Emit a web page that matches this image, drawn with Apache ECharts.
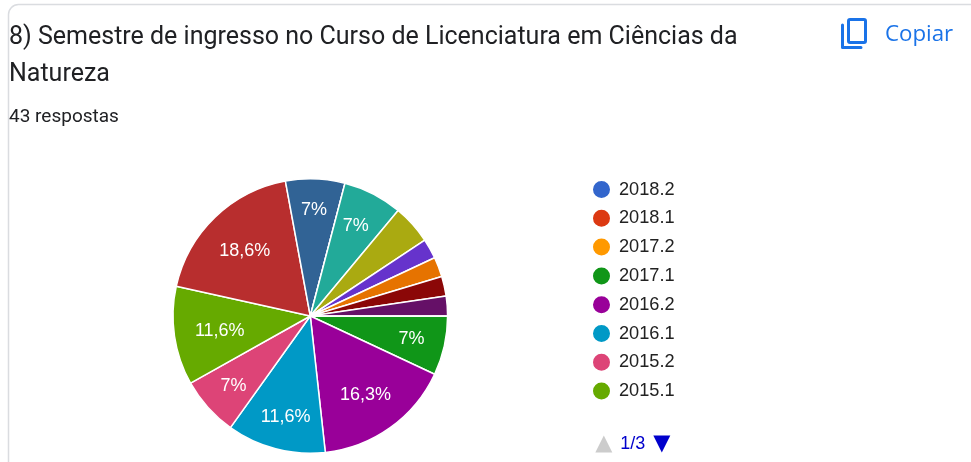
<!DOCTYPE html>
<html><head><meta charset="utf-8">
<style>html,body{margin:0;padding:0;background:#fff}#c{width:971px;height:462px}</style>
<script src="https://cdn.jsdelivr.net/npm/echarts@6/dist/echarts.min.js"></script>
</head><body><div id="c"></div>
<script>
const titleLines = ['8) Semestre de ingresso no Curso de Licenciatura em Ciências da', 'Natureza'];
const subtitle = '43 respostas';
const copyLabel = 'Copiar';
const categories = ['2018.2','2018.1','2017.2','2017.1','2016.2','2016.1','2015.2','2015.1','2014.2','2014.1','2013.2','2013.1','2012.2','2012.1','2011.2','2011.1','2010.2','2010.1'];
const counts = [0,0,0,3,7,5,3,5,8,3,0,3,2,1,1,1,1,0];
const colors = ['#3366cc','#dc3912','#ff9900','#109618','#990099','#0099c6','#dd4477','#66aa00','#b82e2e','#316395','#994499','#22aa99','#aaaa11','#6633cc','#e67300','#8b0707','#651067','#329262'];
const total = counts.reduce((a,b)=>a+b,0);
const pieData = categories.map((name,i)=>({name,value:counts[i]}));
const labelNudge = {3:[2,1],4:[-4,-4],5:[1,3],6:[-1,2],7:[10,0],8:[5,8],9:[0,-4],11:[-1,0]};
const chart = echarts.init(document.getElementById('c'),null,{renderer:'canvas'});
const sansLabel = '"Liberation Sans", Arial, sans-serif';
chart.setOption({
  animation:false,
  backgroundColor:'#fff',
  color:colors,
  legend:{
    type:'scroll',orient:'vertical',left:591,top:179,height:274,padding:0,
    data:categories,icon:'circle',itemWidth:19,itemHeight:19,itemGap:7.8,
    textStyle:{fontFamily:sansLabel,fontSize:18.2,color:'#222',lineHeight:19,padding:[0,0,0,3]},
    pageFormatter:'{current}/{total}',
    pageIcons:{vertical:['path://M6 0L12 12L0 12Z','path://M0 0L12 0L6 12Z']},
    pageIconColor:'#0000cc',pageIconInactiveColor:'#cccccc',pageIconSize:[18,17],
    pageButtonGap:33,pageButtonItemGap:0,
    pageTextStyle:{color:'#0000cc',fontFamily:sansLabel,fontSize:18}
  },
  series:[
    {type:'pie',center:[310.3,316],radius:[0,137.3],startAngle:0,clockwise:true,minAngle:0,
     stillShowZeroSum:false,avoidLabelOverlap:false,
     data:pieData,label:{show:false},labelLine:{show:false},
     itemStyle:{borderColor:'#fff',borderWidth:1.5},emphasis:{disabled:true}},
    {type:'pie',center:[310.3,316],radius:[60,137.3],startAngle:0,clockwise:true,silent:true,
     avoidLabelOverlap:false,legendHoverLink:false,
     data:pieData,labelLine:{show:false},
     itemStyle:{color:'transparent',borderWidth:0},emphasis:{disabled:true},
     labelLayout:p=>{const n=labelNudge[p.dataIndex]; return n?{dx:n[0],dy:n[1]}:{};},
     label:{show:true,position:'inside',color:'#fff',fontFamily:sansLabel,fontSize:18,
       formatter:p=>{ if(p.value<3) return ''; const v=p.value/total*100; const s=v.toFixed(1).replace('.',','); return (s.endsWith(',0')?s.slice(0,-2):s)+'%';}}}
  ],
  graphic:[
    {type:'rect',shape:{x:8.5,y:4.5,width:1000,height:500,r:10},style:{fill:'#fff',stroke:'#dadce0',lineWidth:1.5},z:-1},
    {type:'text',x:9,y:25,style:{text:titleLines[0],font:'400 25px Roboto',fill:'#202124'}},
    {type:'text',x:9,y:62,style:{text:titleLines[1],font:'400 25px Roboto',fill:'#202124'}},
    {type:'text',x:9,y:108,style:{text:subtitle,font:'400 19px Roboto',fill:'#202124'}},
    {type:'text',x:885,y:24,style:{text:copyLabel,font:'400 22.3px "Open Sans"',fill:'#1a73e8'}},
    {type:'rect',shape:{x:848.5,y:19.5,width:17,height:23,r:1.5},style:{fill:'none',stroke:'#1a73e8',lineWidth:3}},
    {type:'polyline',shape:{points:[[842.5,25],[842.5,47.5],[861,47.5]]},style:{fill:'none',stroke:'#1a73e8',lineWidth:3,lineJoin:'round',lineCap:'round'}}
  ]
});
</script></body></html>
